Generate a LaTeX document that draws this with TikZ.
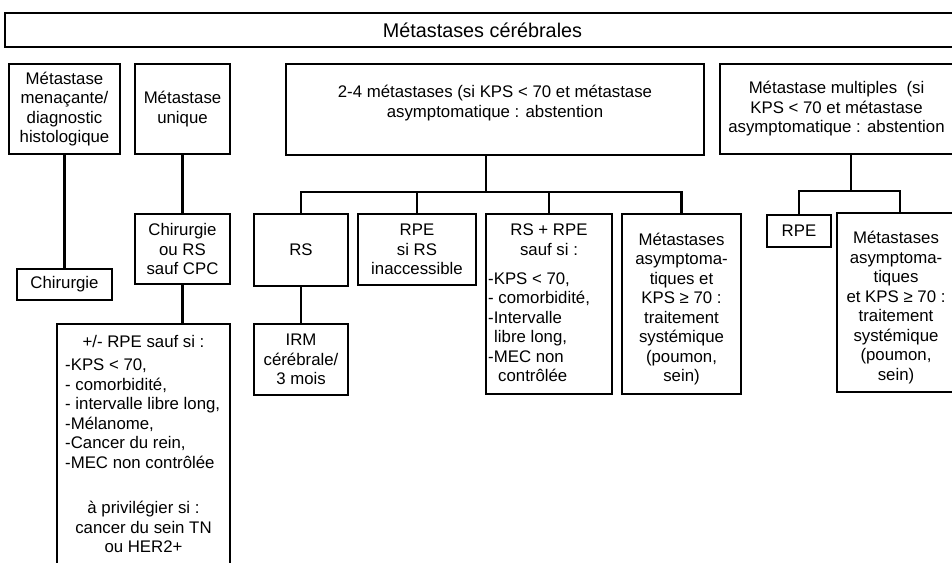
\documentclass[tikz,border=0pt]{standalone}
\usepackage{fontspec}
\setmainfont{Liberation Sans}
\newcommand\bodyfont{\fontsize{16.8}{19.5}\selectfont}
\newcommand\titlefont{\fontsize{19.8}{23}\selectfont}
\begin{document}
\begin{tikzpicture}[x=1pt,y=-1pt,
  box/.style={draw, line width=1.4pt, inner sep=0pt, align=center, font=\bodyfont},
  conn/.style={line width=2.2pt},
  txt/.style={inner sep=0pt, font=\bodyfont},
]
\useasboundingbox[fill=white] (0,0) rectangle (952,562);
\clip (0,0) rectangle (952,562);
% top
\node[box, line width=2pt, font=\titlefont, minimum width=955, minimum height=34] (title) at (482.5,30) {Métastases cérébrales};
% level 1
\node[box, minimum width=111, minimum height=90] (b1) at (64.5,109) {Métastase\\menaçante/\\diagnostic\\histologique};
\node[box, minimum width=95, minimum height=90] (b2) at (182.5,109) {Métastase\\unique};
\node[box, minimum width=418, minimum height=91] (b3) at (495,109.5) {};
\node[txt, align=center] (b3t) at (495,103) {2-4 métastases (si KPS < 70 et métastase\\asymptomatique : abstention};
\node[box, minimum width=233, minimum height=90] (b4) at (836.5,109) {Métastase multiples~~(si\\KPS < 70 et métastase\\asymptomatique : abstention};
% left column
\node[box, minimum width=95, minimum height=31] (chir) at (64.5,284.5) {Chirurgie};
\node[box, minimum width=95, minimum height=70] (chrs) at (182.5,249) {Chirurgie\\ou RS\\sauf CPC};
\node[box, minimum width=173, minimum height=251] (big) at (143.5,449.5) {};
\node[txt, align=center] (bigh) at (143.5,341) {+/- RPE sauf si :};
\node[txt, align=left, anchor=west] (bigl) at (65,413.5) {-KPS < 70,\\- comorbidité,\\- intervalle libre long,\\-Mélanome,\\-Cancer du rein,\\-MEC non contrôlée};
\node[txt, align=center] (bigf) at (143.5,527) {à privilégier si :\\cancer du sein TN\\ou HER2+};
% middle tree
\node[box, minimum width=94, minimum height=72] (rs) at (301,250) {RS};
\node[box, minimum width=118, minimum height=71] (rpe1) at (417,249.5) {RPE\\si RS\\inaccessible};
\node[box, minimum width=126, minimum height=180] (rsrpe) at (549,304) {};
\node[txt, align=center] (rsrpeh) at (549,239.5) {RS + RPE\\sauf si :};
\node[txt, align=left, anchor=west] (rsrpel) at (488,327) {-KPS < 70,\\- comorbidité,\\-Intervalle\\\hspace*{6pt}libre long,\\-MEC non\\\hspace*{10pt}contrôlée};
\node[box, minimum width=119, minimum height=180] (meta1) at (681.5,304) {};
\node[txt, align=center] (meta1t) at (681.5,309) {Métastases\\asymptoma-\\tiques et\\KPS ≥ 70 :\\traitement\\systémique\\(poumon,\\sein)};
\node[box, minimum width=94, minimum height=71] (irm) at (301,359.5) {IRM\\cérébrale/\\3 mois};
% right tree
\node[box, minimum width=64, minimum height=32] (rpe2) at (799,231) {RPE};
\node[box, minimum width=126, minimum height=179] (meta2) at (900,302.5) {};
\node[txt, align=center] (meta2t) at (896,307.5) {Métastases\\asymptoma-\\tiques\\et KPS ≥ 70 :\\traitement\\systémique\\(poumon,\\sein)};
% connectors
\draw[conn] (b1.south) -- (chir.north);
\draw[conn] (b2.south) -- (chrs.north);
\draw[conn] (chrs.south) -- (chrs.south |- big.north);
\coordinate (j1) at (486,192);
\draw[conn] (j1 |- b3.south) -- (j1);
\draw[conn] (rs.north) -- (rs.north |- j1) -- (meta1.north |- j1) -- (meta1.north);
\draw[conn] (rpe1.north) -- (rpe1.north |- j1);
\draw[conn] (rsrpe.north) -- (rsrpe.north |- j1);
\draw[conn] (rs.south) -- (irm.north);
\coordinate (j2) at (851,191);
\draw[conn] (j2 |- b4.south) -- (j2);
\draw[conn] (rpe2.north) -- (rpe2.north |- j2) -- (meta2.north |- j2) -- (meta2.north);
\end{tikzpicture}
\end{document}
